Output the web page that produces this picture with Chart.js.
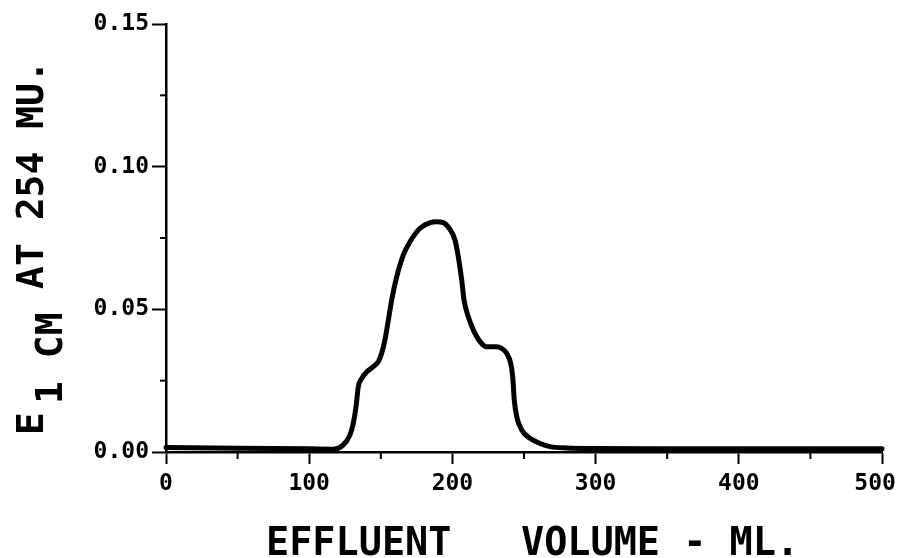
<!DOCTYPE html>
<html><head><meta charset="utf-8">
<script src="https://cdn.jsdelivr.net/npm/chart.js@4.4.1/dist/chart.umd.min.js"></script>
<style>html,body{margin:0;padding:0;background:#fff}#wrap{width:900px;height:558px;position:relative}</style>
</head><body><div id="wrap"><canvas id="c"></canvas></div>
<script>
// Effluent volume (ml) and absorbance readings
const volumeMl = [0, 50, 100, 116.8, 123.8, 128.5, 130.8, 132.7, 134.3, 136.7, 140.2, 144.8, 148.3, 150.6, 152.9, 155.3, 157.6, 161.1, 165.7, 170.4, 177.4, 184.4, 189.0, 193.6, 198.3, 201.8, 204.1, 206.5, 208.1, 211.1, 214.6, 219.3, 224.0, 230.9, 234.4, 237.9, 240.7, 242.1, 243.2, 244.9, 248.4, 254.2, 261.2, 268.2, 280, 300, 350, 400, 450, 500];
const absorbance = [0.0016, 0.0013, 0.0011, 0.0010, 0.0025, 0.0060, 0.0101, 0.0159, 0.0229, 0.0258, 0.0281, 0.0299, 0.0317, 0.0346, 0.0393, 0.0463, 0.0533, 0.0614, 0.0690, 0.0737, 0.0784, 0.0804, 0.0807, 0.0804, 0.0780, 0.0743, 0.0685, 0.0603, 0.0533, 0.0474, 0.0428, 0.0387, 0.0369, 0.0369, 0.0363, 0.0346, 0.0311, 0.0264, 0.0182, 0.0124, 0.0077, 0.0048, 0.0030, 0.0019, 0.0014, 0.0012, 0.0011, 0.0011, 0.0011, 0.0011];

const xTickValues = [0, 100, 200, 300, 400, 500];
const xTickLabels = ['0', '100', '200', '300', '400', '500'];
const yTickValues = [0, 0.05, 0.10, 0.15];
const yTickLabels = ['0.00', '0.05', '0.10', '0.15'];
const xMinorTicks = [50, 150, 250, 350, 450];
const yMinorTicks = [0.025, 0.075, 0.125];
const xTitle = 'EFFLUENT   VOLUME - ML.';
const yTitleMain = 'E';
const yTitleSub = '1 CM';
const yTitleRest = 'AT 254 MU.';

const FONT = '"DejaVu Sans Mono", "Liberation Mono", monospace';

const points = volumeMl.map((v, i) => ({x: v, y: absorbance[i]}));

function labelFor(values, labels, v) {
  for (let i = 0; i < values.length; i++) if (Math.abs(values[i] - v) < 1e-9) return labels[i];
  return '';
}

const extras = {
  id: 'extras',
  afterDraw(chart) {
    const ctx = chart.ctx;
    const xs = chart.scales.x, ys = chart.scales.y;
    const area = chart.chartArea;
    ctx.save();
    ctx.strokeStyle = '#000';
    ctx.lineWidth = 2;
    ctx.lineCap = 'butt';
    yMinorTicks.forEach(v => {
      const py = ys.getPixelForValue(v);
      ctx.beginPath(); ctx.moveTo(area.left - 6, py); ctx.lineTo(area.left, py); ctx.stroke();
    });
    xMinorTicks.forEach(v => {
      const px = xs.getPixelForValue(v);
      ctx.beginPath(); ctx.moveTo(px, area.bottom); ctx.lineTo(px, area.bottom + 7); ctx.stroke();
    });
    ctx.fillStyle = '#000';
    ctx.font = 'bold 38.5px ' + FONT;
    ctx.textAlign = 'left';
    ctx.textBaseline = 'alphabetic';
    ctx.fillText(xTitle, 266, 555);
    // rotated y title with subscript
    const drawRot = (txt, x, y) => {
      ctx.save(); ctx.translate(x, y); ctx.rotate(-Math.PI / 2); ctx.fillText(txt, 0, 0); ctx.restore();
    };
    ctx.font = 'bold 38px ' + FONT;
    drawRot(yTitleMain, 43, 435);
    drawRot(yTitleSub, 62, 404);
    drawRot(yTitleRest, 43, 289);
    ctx.restore();
  }
};

new Chart(document.getElementById('c'), {
  type: 'scatter',
  data: {
    datasets: [{
      data: points,
      showLine: true,
      borderColor: '#000',
      backgroundColor: '#000',
      borderWidth: 5,
      pointRadius: 0,
      cubicInterpolationMode: 'monotone',
      borderCapStyle: 'round',
      borderJoinStyle: 'round',
      fill: false,
      clip: 8
    }]
  },
  options: {
    responsive: true,
    maintainAspectRatio: false,
    animation: false,
    devicePixelRatio: 1,
    layout: {autoPadding: false, padding: {left: 0, top: 24, right: 18, bottom: 0}},
    plugins: {legend: {display: false}, tooltip: {enabled: false}},
    scales: {
      x: {
        type: 'linear', min: 0, max: 500,
        afterFit: s => { s.height = 106; s.paddingLeft = 0; s.paddingRight = 0; },
        afterBuildTicks: s => { s.ticks = xTickValues.map(v => ({value: v})); },
        ticks: {
          color: '#000', maxRotation: 0, padding: 6,
          font: {family: FONT, size: 23, weight: 'bold'},
          // last label padded with a trailing space so it sits left of the end tick as in the figure
          callback: v => { const t = labelFor(xTickValues, xTickLabels, v); return v === 500 ? t + ' ' : t; }
        },
        grid: {drawOnChartArea: false, drawTicks: true, tickLength: 12, tickColor: '#000', tickWidth: 2},
        border: {display: true, color: '#000', width: 2.5}
      },
      y: {
        type: 'linear', min: 0, max: 0.15,
        afterFit: s => { s.width = 166; s.paddingTop = 0; s.paddingBottom = 0; },
        afterBuildTicks: s => { s.ticks = yTickValues.map(v => ({value: v})); },
        ticks: {
          color: '#000', padding: 3,
          font: {family: FONT, size: 23, weight: 'bold'},
          callback: v => labelFor(yTickValues, yTickLabels, v)
        },
        grid: {drawOnChartArea: false, drawTicks: true, tickLength: 14, tickColor: '#000', tickWidth: 2},
        border: {display: true, color: '#000', width: 2.5}
      }
    }
  },
  plugins: [extras]
});
</script>
</body></html>
